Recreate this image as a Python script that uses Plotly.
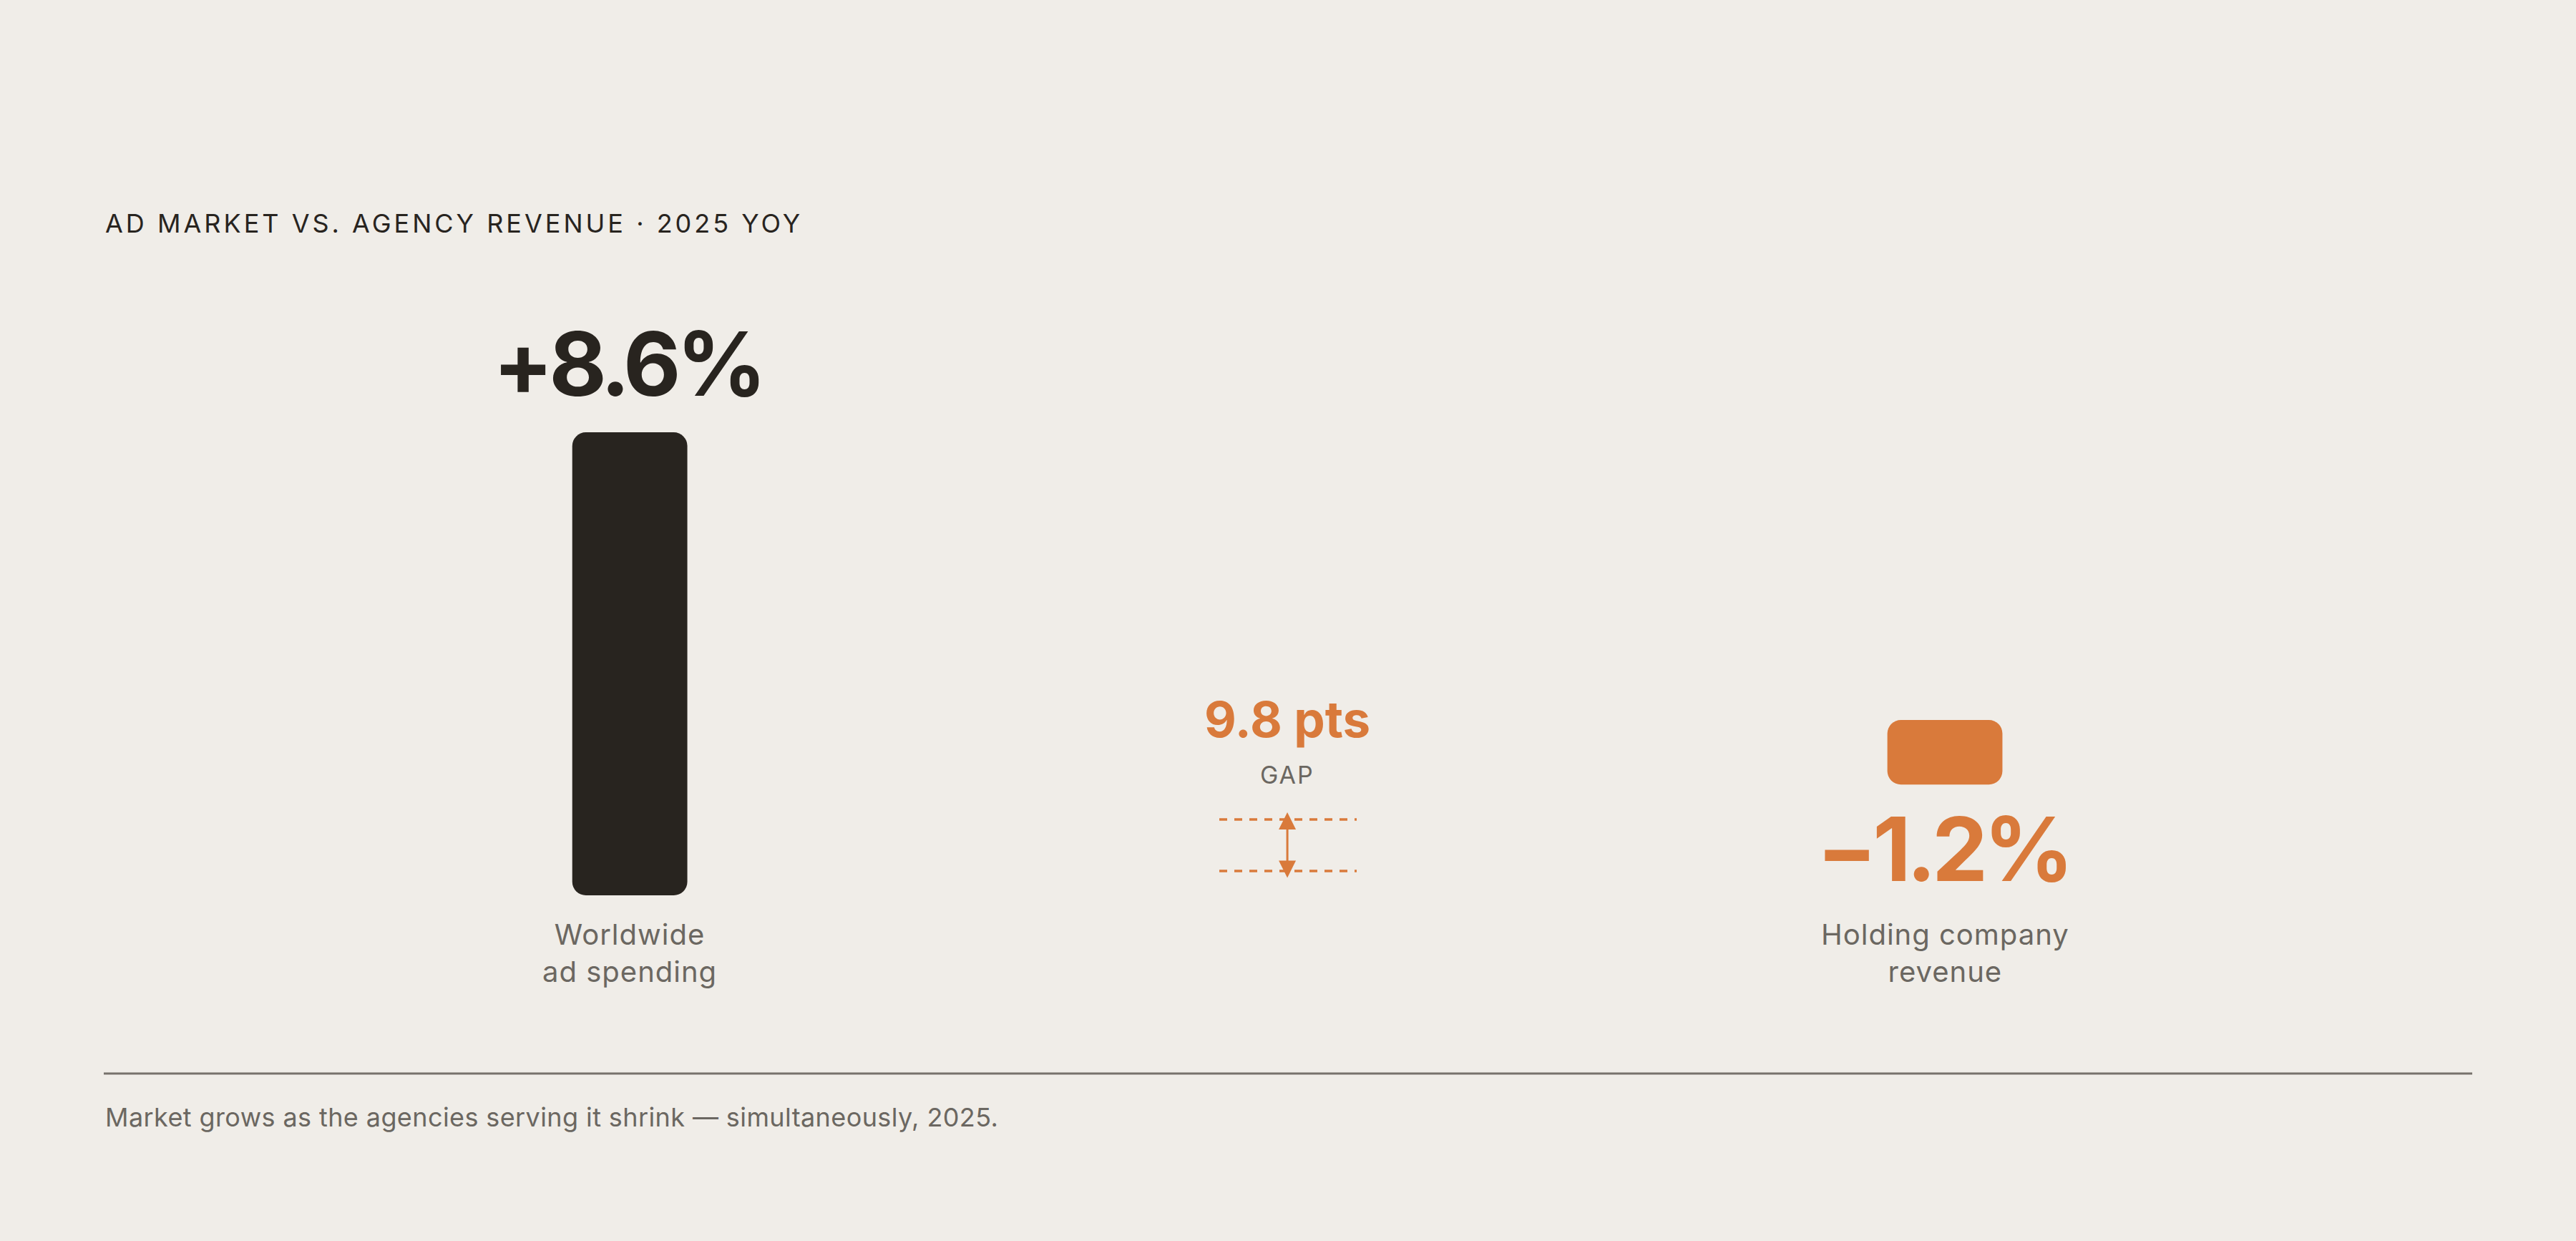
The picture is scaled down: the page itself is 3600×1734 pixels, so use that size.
import plotly.graph_objects as go

# ---------------- data ----------------
categories = ["Worldwide<br>ad spending", "Holding company<br>revenue"]
values = [8.6, -1.2]
title_text = "AD MARKET VS. AGENCY REVENUE · 2025 YOY"
gap_label = "GAP"
footnote = "Market grows as the agencies serving it shrink — simultaneously, 2025."

# ---------------- layout constants ----------------
W, H = 3600, 1734
L, R, T, B = 145, 145, 0, 0
BG = "#F0EDE8"
DARK = "#28241F"
ORANGE = "#D97A3B"
GRAY = "#6B6761"
RULE = "#77726C"
FONT = "Inter, 'DejaVu Sans', sans-serif"

X_POS = [0, 2]          # column positions of the two bars
GAP_X = 1               # column of the gap annotation
X_RANGE = [-0.8, 2.802]
Y_RANGE = [-6.42, 16.63]
BAR_BASES = [0, 3.257]  # the agency bar hangs from its own baseline
BAR_WIDTH = 0.175


def py(p):
    """pixel row -> paper y"""
    return 1 - (p - T) / (H - T - B)


def px(p):
    """pixel column -> paper x"""
    return (p - L) / (W - L - R)


gap = values[0] - values[1]


def fmt(v):
    return ("+" if v >= 0 else "\u2212") + f"{abs(v):.1f}%"


def tracked(s, px_):
    return f'<span style="letter-spacing:{px_}px">{s}</span>'


fig = go.Figure()
fig.add_trace(go.Bar(
    x=X_POS, y=values, base=BAR_BASES, width=BAR_WIDTH,
    marker=dict(color=[DARK, ORANGE], line=dict(width=0), cornerradius=19),
    hoverinfo="skip", showlegend=False,
))

annotations = []
# title
annotations.append(dict(
    x=0, y=py(312), xref="paper", yref="paper", xanchor="left", yanchor="middle",
    text=tracked(title_text, 4),
    font=dict(size=36, color=DARK, family=FONT), showarrow=False))
# value labels
annotations.append(dict(
    x=X_POS[0], y=py(508), xref="x", yref="paper", xanchor="center", yanchor="middle",
    text=f"<b>{tracked(fmt(values[0]), -6)}</b>", font=dict(size=124, color=DARK, family=FONT),
    showarrow=False, xshift=-3))
annotations.append(dict(
    x=X_POS[1], y=py(1186), xref="x", yref="paper", xanchor="center", yanchor="middle",
    text=f"<b>{tracked(fmt(values[1]), -6)}</b>", font=dict(size=124, color=ORANGE, family=FONT),
    showarrow=False, xshift=-3))
# category labels
for xp, cat in zip(X_POS, categories):
    annotations.append(dict(
        x=xp, y=py(1331), xref="x", yref="paper", xanchor="center", yanchor="middle",
        text=tracked(cat, 1), font=dict(size=40, color=GRAY, family=FONT), showarrow=False))
# gap label
annotations.append(dict(
    x=GAP_X, y=py(1005), xref="x", yref="paper", xanchor="center", yanchor="middle",
    text=f"<b>{gap:.1f} pts</b>", font=dict(size=69, color=ORANGE, family=FONT), showarrow=False))
annotations.append(dict(
    x=GAP_X, y=py(1082), xref="x", yref="paper", xanchor="center", yanchor="middle",
    text=tracked(gap_label, 2),
    font=dict(size=34, color=GRAY, family=FONT), showarrow=False))
# double arrow
annotations.append(dict(
    x=GAP_X, y=py(1135), xref="x", yref="paper", ax=0, ay=93, axref="pixel", ayref="pixel",
    text="", showarrow=True, arrowside="end+start", arrowhead=2, arrowsize=1.6,
    arrowwidth=3, arrowcolor=ORANGE, standoff=0, startstandoff=0))
# footnote
annotations.append(dict(
    x=0, y=py(1561), xref="paper", yref="paper", xanchor="left", yanchor="middle",
    text=tracked(footnote, 0.4), font=dict(size=36, color=GRAY, family=FONT), showarrow=False))

shapes = []
# dashed guide lines of the gap icon
for p in (1145, 1217):
    shapes.append(dict(type="line", xref="paper", yref="paper",
                       x0=px(1704), x1=px(1896), y0=py(p), y1=py(p),
                       line=dict(color=ORANGE, width=3.5, dash="11px,10px")))
# footer rule
shapes.append(dict(type="line", xref="paper", yref="paper",
                   x0=0, x1=1, y0=py(1500), y1=py(1500),
                   line=dict(color=RULE, width=3)))

fig.update_layout(
    width=W, height=H,
    margin=dict(l=L, r=R, t=T, b=B, pad=0),
    paper_bgcolor=BG, plot_bgcolor=BG,
    font=dict(family=FONT),
    xaxis=dict(range=X_RANGE, visible=False, fixedrange=True),
    yaxis=dict(range=Y_RANGE, visible=False, fixedrange=True),
    annotations=annotations, shapes=shapes,
    showlegend=False,
)

fig.write_html("out.html", config={"displayModeBar": False},
               post_script="document.body.style.margin='0';document.body.style.overflow='hidden';")
